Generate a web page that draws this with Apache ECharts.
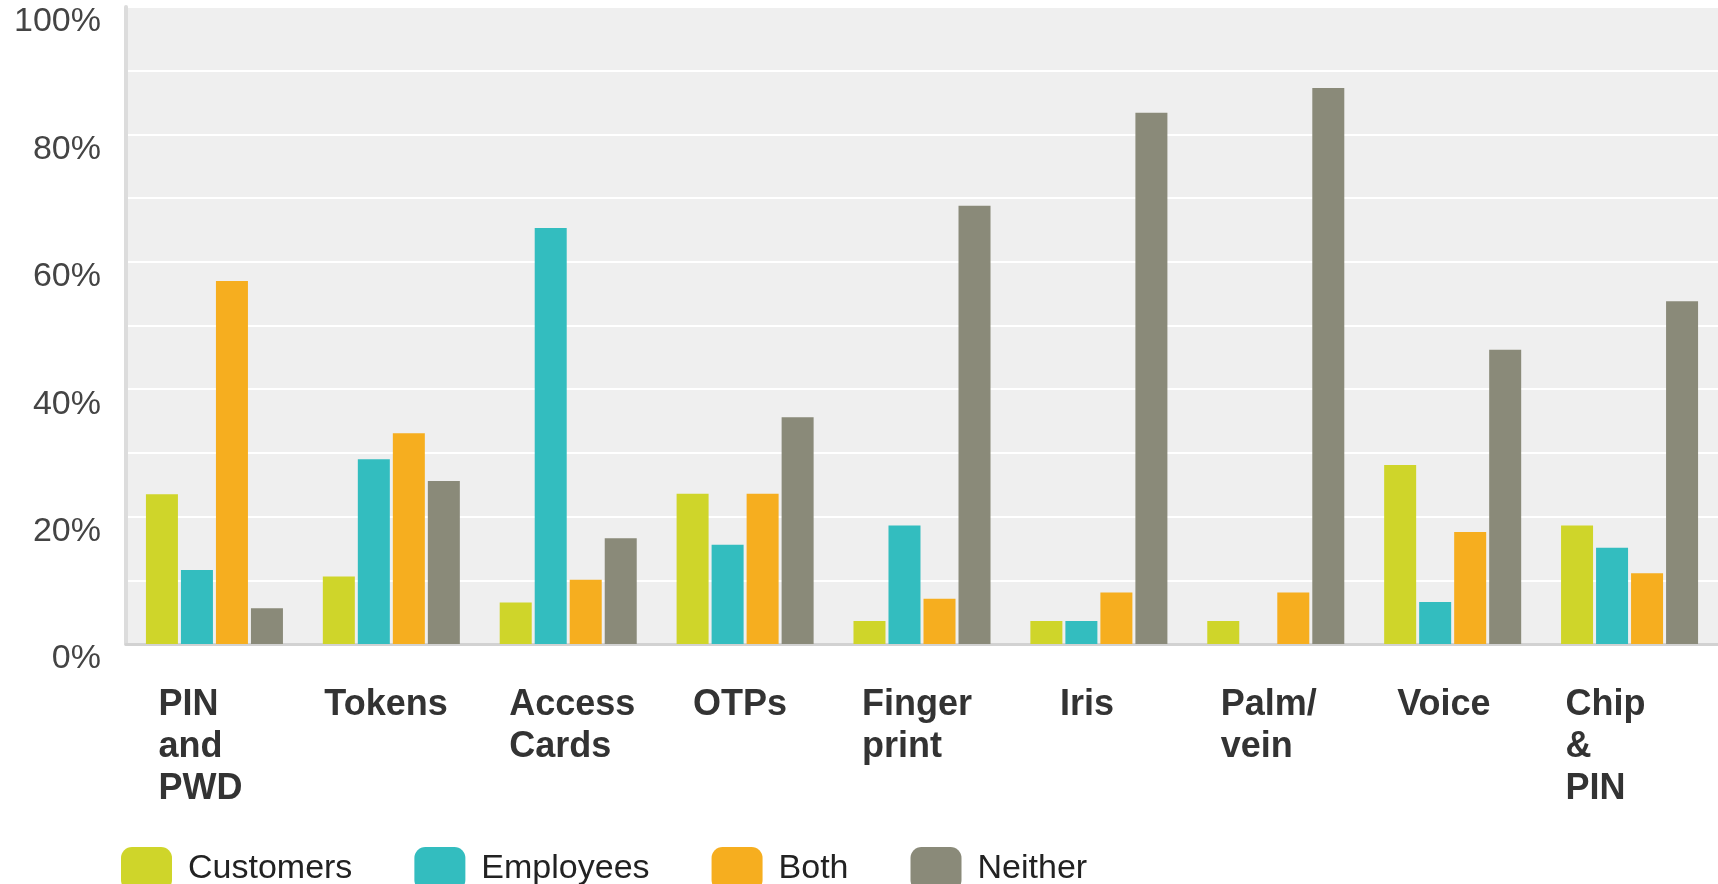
<!DOCTYPE html>
<html>
<head>
<meta charset="utf-8">
<script src="https://cdn.jsdelivr.net/npm/echarts@6/dist/echarts.min.js"></script>
<style>
html,body{margin:0;padding:0;background:#fff;}
#chart{width:1718px;height:884px;}
</style>
</head>
<body>
<div id="chart"></div>
<script>
// ---- data ----
const categories = ['PIN\nand\nPWD', 'Tokens', 'Access\nCards', 'OTPs', 'Finger\nprint', 'Iris', 'Palm/\nvein', 'Voice', 'Chip\n&\nPIN'];
const seriesNames = ['Customers', 'Employees', 'Both', 'Neither'];
const customers = [23.5, 10.6, 6.5, 23.6, 3.6, 3.6, 3.6, 28.1, 18.6];
const employees = [11.6, 29.0, 65.3, 15.6, 18.6, 3.6, 0, 6.6, 15.1];
const both      = [57.0, 33.1, 10.1, 23.6, 7.1, 8.1, 8.1, 17.6, 11.1];
const neither   = [5.6, 25.6, 16.6, 35.6, 68.8, 83.4, 87.3, 46.2, 53.8];
const yTicks = [0, 20, 40, 60, 80, 100];

// ---- styles ----
const colors = ['#cfd52a', '#33bdbf', '#f6ae1f', '#8a8a79'];
const labelBlockWidths = [112, 134, 118, 104, 120, 78, 110, 111, 128];

const rich = {};
labelBlockWidths.forEach((w, i) => {
  rich['c' + i] = {
    width: w, align: 'left', fontSize: 36, fontWeight: 'bold',
    lineHeight: 42, color: '#333', fontFamily: 'Liberation Sans, Arial, sans-serif'
  };
});

const chart = echarts.init(document.getElementById('chart'), null, {renderer: 'canvas'});
const valuesList = [customers, employees, both, neither];

chart.setOption({
  animation: false,
  backgroundColor: '#ffffff',
  textStyle: {fontFamily: 'Liberation Sans, Arial, sans-serif'},
  grid: {
    left: 126, right: 0, top: 7, bottom: 240,
    containLabel: false,
    outerBoundsMode: 'none',
    show: true, backgroundColor: '#efefef', borderWidth: 0
  },
  legend: {
    data: seriesNames,
    left: 121, top: 844,
    padding: 0,
    itemWidth: 51, itemHeight: 44, itemGap: 62,
    icon: 'roundRect',
    textStyle: {fontSize: 34, color: '#222', lineHeight: 34, padding: [0, 0, 16, 11],
      fontFamily: 'Liberation Sans, Arial, sans-serif'}
  },
  xAxis: {
    type: 'category',
    data: categories,
    boundaryGap: true,
    axisTick: {show: false},
    axisLine: {show: true, lineStyle: {color: '#d2d2d2', width: 3}},
    splitLine: {show: false},
    axisLabel: {
      interval: 0,
      margin: 40,
      align: 'center',
      verticalAlign: 'top',
      hideOverlap: false,
      formatter: (value, idx) => value.split('\n').map(l => '{c' + idx + '|' + l + '}').join('\n'),
      rich: rich
    }
  },
  yAxis: {
    type: 'value',
    min: 0, max: 100, interval: 10,
    axisLine: {show: true, lineStyle: {color: '#dcdcdc', width: 4}},
    axisTick: {show: false},
    splitLine: {show: true, lineStyle: {color: '#ffffff', width: 2}},
    axisLabel: {
      margin: 25,
      fontSize: 34,
      lineHeight: 30,
      color: '#444',
      verticalAlign: 'top',
      verticalAlignMinLabel: 'top',
      verticalAlignMaxLabel: 'top',
      hideOverlap: false,
      formatter: v => (yTicks.indexOf(v) >= 0 ? v + '%' : '')
    }
  },
  series: seriesNames.map((name, i) => ({
    name: name,
    type: 'bar',
    data: valuesList[i],
    barWidth: 32,
    barGap: '9.4%',
    itemStyle: {color: colors[i]}
  }))
});
</script>
</body>
</html>
